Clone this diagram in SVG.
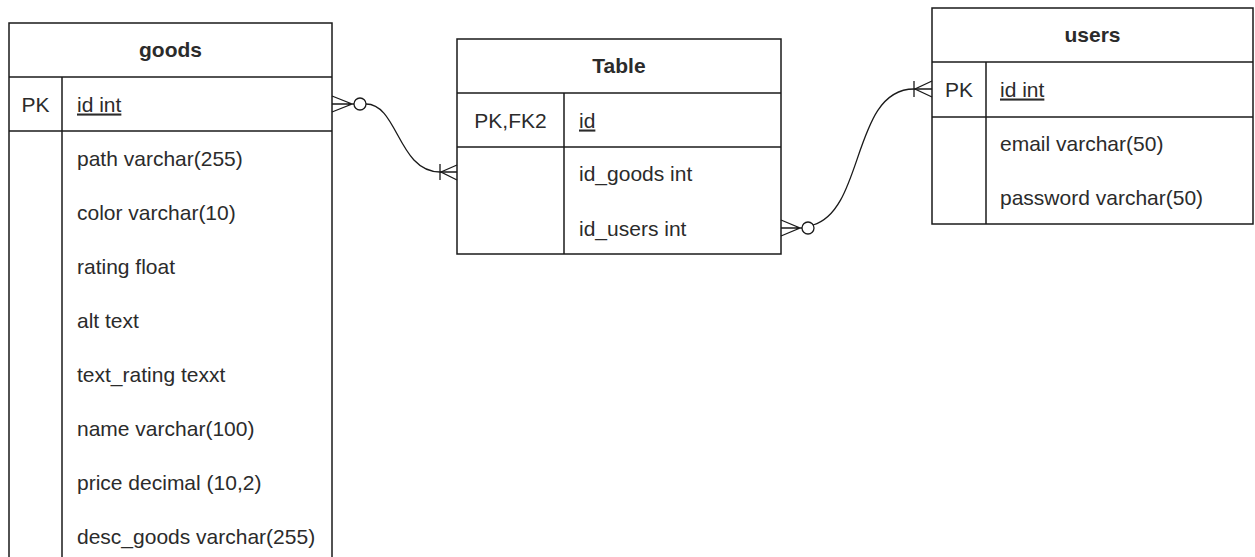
<svg xmlns="http://www.w3.org/2000/svg" width="1255" height="557" viewBox="0 0 1255 557">
<style>
.box{fill:#fff;stroke:#1a1a1a;stroke-width:1.5}
.ln{fill:none;stroke:#1a1a1a;stroke-width:1.5}
.cn{fill:none;stroke:#1a1a1a;stroke-width:1.3}
.t{font-family:"Liberation Sans",Arial,sans-serif;font-size:21px;fill:#2b2b2b}
.h{font-weight:bold;text-anchor:middle}
.k{text-anchor:middle}
.u{text-decoration:underline}
</style>
<rect width="1255" height="557" fill="#fff"/>
<g id="goods">
<rect class="box" x="9" y="23" width="323" height="560"/>
<line class="ln" x1="9" y1="77" x2="332" y2="77"/>
<line class="ln" x1="9" y1="131" x2="332" y2="131"/>
<line class="ln" x1="62" y1="77" x2="62" y2="583"/>
<text class="t h" x="170.5" y="57">goods</text>
<text class="t k" x="35.5" y="111.5">PK</text>
<text class="t u" x="77" y="111.5">id int</text>
<text class="t" x="77" y="165.5">path varchar(255)</text>
<text class="t" x="77" y="219.5">color varchar(10)</text>
<text class="t" x="77" y="273.5">rating float</text>
<text class="t" x="77" y="327.5">alt text</text>
<text class="t" x="77" y="381.5">text_rating texxt</text>
<text class="t" x="77" y="435.5">name varchar(100)</text>
<text class="t" x="77" y="489.5">price decimal (10,2)</text>
<text class="t" x="77" y="543.5">desc_goods varchar(255)</text>
</g>
<g id="table">
<rect class="box" x="457" y="39" width="324" height="215"/>
<line class="ln" x1="457" y1="93" x2="781" y2="93"/>
<line class="ln" x1="457" y1="147" x2="781" y2="147"/>
<line class="ln" x1="564" y1="93" x2="564" y2="254"/>
<text class="t h" x="619" y="73">Table</text>
<text class="t k" x="510.5" y="127.5">PK,FK2</text>
<text class="t u" x="579" y="127.5">id</text>
<text class="t" x="579" y="180.5">id_goods int</text>
<text class="t" x="579" y="235.5">id_users int</text>
</g>
<g id="users">
<rect class="box" x="932" y="8" width="321" height="216"/>
<line class="ln" x1="932" y1="62" x2="1253" y2="62"/>
<line class="ln" x1="932" y1="117" x2="1253" y2="117"/>
<line class="ln" x1="986" y1="62" x2="986" y2="224"/>
<text class="t h" x="1092.5" y="42">users</text>
<text class="t k" x="959" y="96.5">PK</text>
<text class="t u" x="1000" y="96.5">id int</text>
<text class="t" x="1000" y="150.5">email varchar(50)</text>
<text class="t" x="1000" y="204.5">password varchar(50)</text>
</g>
<g id="connectors">
<path class="cn" d="M332,96 L352,104 L332,112 M332,104 L354,104"/>
<circle class="cn" cx="360" cy="104" r="6"/>
<path class="cn" d="M366,104 C398,104 398,172 440,172 L457,172"/>
<path class="cn" d="M457,165 L441,172 L457,180 M440,164 L440,180"/>
<path class="cn" d="M781,220 L800,228 L781,236 M781,228 L802,228"/>
<circle class="cn" cx="808" cy="228" r="6"/>
<path class="cn" d="M813,225 C865,210 852,89 914,89 L932,89"/>
<path class="cn" d="M932,81 L915,89 L932,97 M914,81 L914,97"/>
</g>
</svg>
